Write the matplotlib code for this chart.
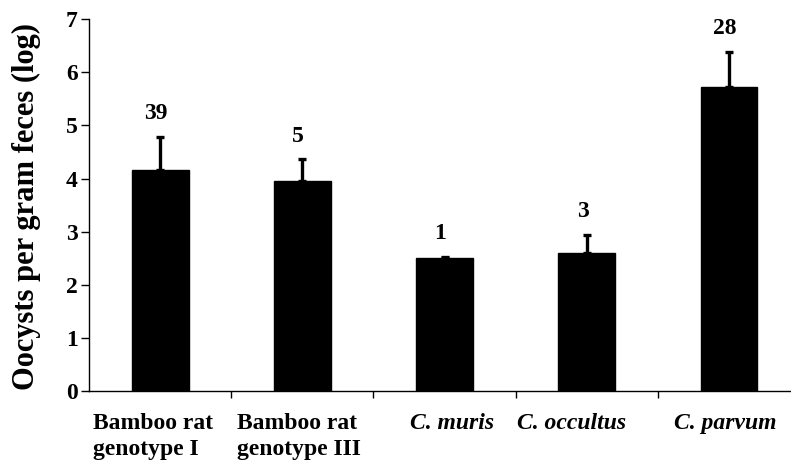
import matplotlib
matplotlib.use("Agg")
import matplotlib.pyplot as plt
import numpy as np

categories = ["Bamboo rat\ngenotype I", "Bamboo rat\ngenotype III",
              "C. muris", "C. occultus", "C. parvum"]
italic_label = [False, False, True, True, True]
label_x = [-0.47, 0.54, 1.757, 2.51, 3.613]  # left edge of each category label
means = [4.16, 3.96, 2.50, 2.59, 5.72]
errors = [0.63, 0.40, 0.02, 0.35, 0.67]
counts = [39, 5, 1, 3, 28]
yticks = [0, 1, 2, 3, 4, 5, 6, 7]

plt.rcParams["font.family"] = ["Liberation Serif", "DejaVu Serif"]
plt.rcParams["font.weight"] = "bold"

fig = plt.figure(figsize=(7.91, 4.61), dpi=100)
ax = fig.add_axes([0.1125, 0.1525, 0.899, 0.8055])

x = np.arange(len(categories))
ax.bar(x, means, width=0.4, color="black", edgecolor="black", zorder=2)
ax.errorbar(x, means, yerr=[np.zeros(len(errors)), errors], fmt="none",
            ecolor="black", elinewidth=2.4, capsize=3, capthick=2.4, zorder=3)

for xi, m, e, n in zip(x, means, errors, counts):
    ax.text(xi - 0.03, m + e + 0.24, str(n), ha="center", va="bottom",
            fontsize=17, fontweight="bold")

for lx, lab, it in zip(label_x, categories, italic_label):
    ax.text(lx, -0.42, lab, ha="left", va="top", fontsize=17,
            fontweight="bold", style="italic" if it else "normal",
            linespacing=1.3, clip_on=False)

ax.set_xlim(-0.5, 4.5)
ax.set_ylim(0, 7)
ax.set_yticks(yticks)
ax.set_yticklabels([str(t) for t in yticks], fontsize=17, fontweight="bold")
ax.set_xticks([])
ax.set_xticks(np.arange(0.5, 4.5, 1.0), minor=True)
ax.tick_params(axis="x", which="minor", direction="out", length=5, width=1)
ax.tick_params(axis="y", direction="out", length=6, width=1, pad=2)

ax.spines["top"].set_visible(False)
ax.spines["right"].set_visible(False)
ax.spines["left"].set_linewidth(1)
ax.spines["bottom"].set_linewidth(1)

ax.set_ylabel("Oocysts per gram feces (log)", fontsize=22, fontweight="bold")
ax.yaxis.set_label_coords(-0.0675, 0.497)

fig.savefig("out.png", dpi=100)
